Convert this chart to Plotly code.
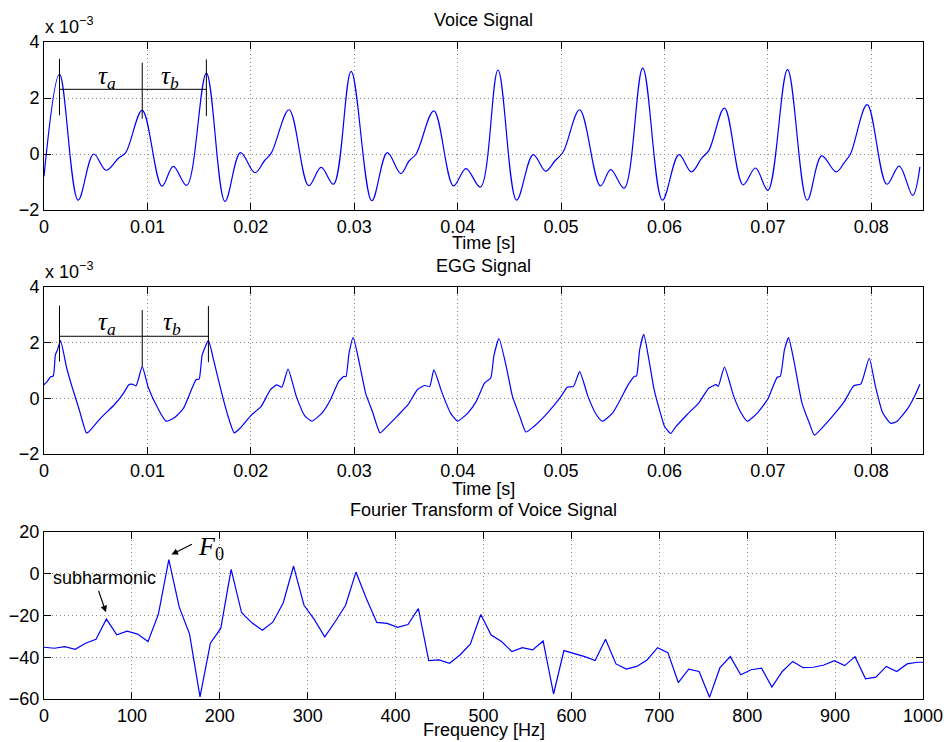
import plotly.graph_objects as go

# ---------------- data ----------------
# Voice signal (values in units of 1e-3)
voice_t = [0.0000, 0.0015, 0.0033, 0.0048, 0.0060, 0.0072, 0.0079, 0.0095, 0.0114, 0.0125,
           0.0138, 0.0157, 0.0175, 0.0190, 0.0204, 0.0213, 0.0220, 0.0237, 0.0256, 0.0268,
           0.0280, 0.0297, 0.0317, 0.0332, 0.0345, 0.0353, 0.0360, 0.0377, 0.0396, 0.0408,
           0.0422, 0.0439, 0.0457, 0.0473, 0.0485, 0.0494, 0.0502, 0.0518, 0.0538, 0.0548,
           0.0561, 0.0579, 0.0598, 0.0614, 0.0626, 0.0636, 0.0643, 0.0658, 0.0676, 0.0688,
           0.0700, 0.0719, 0.0738, 0.0752, 0.0766, 0.0774, 0.0780, 0.0796, 0.0815, 0.0827,
           0.0840, 0.0847]
voice_v = [-0.80, 2.85, -1.65, 0.00, -0.58, -0.15, 0.05, 1.56, -1.15, -0.44,
           -1.12, 2.89, -1.69, 0.05, -0.67, -0.25, 0.05, 1.58, -1.13, -0.48,
           -1.08, 2.95, -1.67, 0.05, -0.70, -0.25, 0.01, 1.54, -1.14, -0.52,
           -1.18, 3.00, -1.65, -0.02, -0.61, -0.25, 0.07, 1.58, -1.14, -0.56,
           -1.22, 3.07, -1.65, -0.02, -0.64, -0.15, 0.13, 1.64, -1.10, -0.50,
           -1.30, 3.01, -1.65, -0.07, -0.64, -0.30, 0.01, 1.76, -1.08, -0.43,
           -1.48, -0.46]

# EGG signal (values in units of 1e-3)
egg_t = [0.0000, 0.0003, 0.0006, 0.0009, 0.0011, 0.0013, 0.0016, 0.0022, 0.0027, 0.0034,
         0.0041, 0.0043, 0.0055, 0.0068, 0.0077, 0.0082, 0.0085, 0.0089, 0.0095, 0.0101,
         0.0110, 0.0118, 0.0126, 0.0135, 0.0147, 0.0150, 0.0153, 0.0159, 0.0164, 0.0171,
         0.0177, 0.0184, 0.0190, 0.0200, 0.0210, 0.0219, 0.0225, 0.0230, 0.0236, 0.0244,
         0.0252, 0.0259, 0.0269, 0.0277, 0.0285, 0.0290, 0.0292, 0.0295, 0.0299, 0.0305,
         0.0311, 0.0318, 0.0325, 0.0332, 0.0342, 0.0352, 0.0361, 0.0368, 0.0373, 0.0377,
         0.0385, 0.0393, 0.0400, 0.0410, 0.0418, 0.0426, 0.0432, 0.0435, 0.0440, 0.0447,
         0.0453, 0.0460, 0.0466, 0.0474, 0.0487, 0.0500, 0.0506, 0.0512, 0.0518, 0.0526,
         0.0534, 0.0540, 0.0550, 0.0558, 0.0564, 0.0571, 0.0573, 0.0576, 0.0580, 0.0585,
         0.0590, 0.0596, 0.0600, 0.0606, 0.0611, 0.0622, 0.0633, 0.0643, 0.0650, 0.0652,
         0.0658, 0.0667, 0.0674, 0.0680, 0.0690, 0.0700, 0.0709, 0.0712, 0.0716, 0.0720,
         0.0725, 0.0733, 0.0740, 0.0745, 0.0754, 0.0764, 0.0774, 0.0783, 0.0790, 0.0798,
         0.0804, 0.0811, 0.0819, 0.0825, 0.0835, 0.0841, 0.0847]
egg_v = [0.49, 0.60, 0.76, 0.81, 1.56, 1.74, 2.07, 1.08, 0.43, -0.40,
         -1.24, -1.21, -0.70, -0.23, 0.19, 0.49, 0.51, 0.45, 1.14, 0.37,
         -0.35, -0.82, -0.70, -0.35, 0.67, 0.69, 1.56, 2.07, 1.38, 0.31,
         -0.52, -1.24, -1.06, -0.62, -0.29, 0.31, 0.48, 0.40, 1.05, 0.07,
         -0.62, -0.82, -0.52, -0.05, 0.61, 0.79, 0.78, 1.62, 2.18, 1.26,
         0.19, -0.52, -1.24, -1.00, -0.62, -0.23, 0.31, 0.46, 0.43, 1.02,
         0.19, -0.52, -0.82, -0.52, -0.11, 0.55, 0.73, 1.52, 2.15, 1.14,
         0.07, -0.64, -1.21, -1.00, -0.52, 0.07, 0.40, 0.43, 0.96, 0.07,
         -0.58, -0.82, -0.52, 0.00, 0.43, 0.79, 0.80, 1.74, 2.30, 1.38,
         0.31, -0.52, -1.00, -1.26, -1.02, -0.58, -0.17, 0.37, 0.49, 0.43,
         1.12, 0.07, -0.52, -0.82, -0.52, -0.02, 0.76, 0.79, 1.74, 2.18,
         1.38, -0.17, -0.88, -1.32, -1.00, -0.58, -0.11, 0.45, 0.52, 1.44,
         0.43, -0.52, -0.90, -0.82, -0.38, 0.01, 0.51]

# Fourier transform of voice signal
fft_f = [0, 11.8, 23.7, 35.5, 47.3, 59.2, 71.0, 82.8, 94.6, 106.5,
         118.3, 130.1, 142.0, 153.8, 165.6, 177.5, 189.3, 201.1, 212.9, 224.8,
         236.6, 248.4, 260.3, 272.1, 283.9, 295.8, 307.6, 319.4, 331.2, 343.1,
         354.9, 366.7, 378.6, 390.4, 402.2, 414.1, 425.9, 437.7, 449.5, 461.4,
         473.2, 485.0, 496.9, 508.7, 520.5, 532.4, 544.2, 556.0, 567.8, 579.7,
         591.5, 603.3, 615.2, 627.0, 638.8, 650.7, 662.5, 674.3, 686.1, 698.0,
         709.8, 721.6, 733.5, 745.3, 757.1, 769.0, 780.8, 792.6, 804.4, 816.3,
         828.1, 839.9, 851.8, 863.6, 875.4, 887.3, 899.1, 910.9, 922.7, 934.6,
         946.4, 958.2, 970.1, 981.9, 993.7, 1005.6]
fft_db = [-35.2, -35.7, -34.9, -36.2, -33.3, -31.4, -21.7, -29.2, -27.5, -28.9,
          -32.5, -19.4, 6.8, -15.9, -28.9, -59.0, -33.3, -26.2, 2.1, -18.7,
          -23.5, -27.1, -23.2, -14.0, 3.7, -15.1, -22.0, -30.2, -23.0, -15.1,
          0.8, -11.9, -23.3, -23.8, -25.7, -24.3, -16.7, -41.6, -41.3, -42.9,
          -38.9, -33.7, -19.5, -29.4, -32.5, -37.3, -35.4, -36.5, -32.2, -57.6,
          -36.8, -38.1, -39.7, -41.6, -31.4, -43.2, -45.7, -44.4, -41.3, -35.4,
          -37.8, -52.1, -45.7, -46.8, -59.2, -45.0, -39.7, -48.4, -46.0, -45.2,
          -54.3, -46.8, -42.0, -45.0, -44.8, -43.7, -41.6, -44.0, -39.7, -50.3,
          -49.5, -44.4, -46.8, -43.2, -42.4, -42.4]

# tau markers (time, low, high) and horizontal bar level
voice_tau_t = [0.0015, 0.0095, 0.0157]
voice_tau_lo = [1.38, 1.26, 1.36]
voice_tau_hi = [3.40, 3.26, 3.38]
voice_tau_bar = 2.31
egg_tau_t = [0.0015, 0.0095, 0.0159]
egg_tau_lo = [1.32, 1.14, 1.30]
egg_tau_hi = [3.33, 3.17, 3.32]
egg_tau_bar = 2.23

time_ticks = [0, 0.01, 0.02, 0.03, 0.04, 0.05, 0.06, 0.07, 0.08]
time_labels = ["0", "0.01", "0.02", "0.03", "0.04", "0.05", "0.06", "0.07", "0.08"]

# ---------------- figure ----------------
W, H = 944, 742
ML, MR, MT, MB = 44, 21, 42, 43
PH = H - MT - MB


def py(px):
    """pixel y (from top) -> paper y"""
    return (H - MB - px) / PH


def pxx(px):
    return (px - ML) / (W - ML - MR)


BLUE = "rgb(0,0,255)"
SANS = "Liberation Sans, Arial, Helvetica, sans-serif"
SERIF = "Liberation Serif, Times New Roman, serif"

fig = go.Figure()

fig.add_trace(go.Scatter(x=voice_t, y=voice_v, mode="lines",
                         line=dict(color=BLUE, width=1.2, shape="spline", smoothing=1.0),
                         xaxis="x", yaxis="y", showlegend=False))
fig.add_trace(go.Scatter(x=egg_t, y=egg_v, mode="lines",
                         line=dict(color=BLUE, width=1.2, shape="spline", smoothing=0.5),
                         xaxis="x2", yaxis="y2", showlegend=False))
fig.add_trace(go.Scatter(x=fft_f, y=fft_db, mode="lines",
                         line=dict(color=BLUE, width=1.2),
                         xaxis="x3", yaxis="y3", showlegend=False))


def tau_traces(ts, los, his, bar, xa, ya):
    for t, lo, hi in zip(ts, los, his):
        fig.add_trace(go.Scatter(x=[t, t], y=[lo, hi], mode="lines",
                                 line=dict(color="black", width=1),
                                 xaxis=xa, yaxis=ya, showlegend=False, hoverinfo="skip"))
    fig.add_trace(go.Scatter(x=[ts[0], ts[-1]], y=[bar, bar], mode="lines",
                             line=dict(color="black", width=1),
                             xaxis=xa, yaxis=ya, showlegend=False, hoverinfo="skip"))


tau_traces(voice_tau_t, voice_tau_lo, voice_tau_hi, voice_tau_bar, "x", "y")
tau_traces(egg_tau_t, egg_tau_lo, egg_tau_hi, egg_tau_bar, "x2", "y2")

axis_common = dict(showline=True, linecolor="black", linewidth=1, mirror="ticks",
                   ticks="inside", ticklen=7, tickcolor="black", tickwidth=1,
                   showgrid=True, gridcolor="rgb(140,140,140)", griddash="1px,3px", gridwidth=1,
                   zeroline=False, automargin=False,
                   tickfont=dict(family=SANS, size=18, color="black"))

d1 = [py(210), py(42)]
d2 = [py(454), py(287)]
d3 = [0, py(532)]

fig.update_layout(
    width=W, height=H, margin=dict(l=ML, r=MR, t=MT, b=MB),
    paper_bgcolor="white", plot_bgcolor="white", showlegend=False,
    xaxis=dict(domain=[0, 1], anchor="y", range=[0, 0.085], tickvals=time_ticks,
               ticktext=time_labels, **axis_common),
    yaxis=dict(domain=d1, anchor="x", range=[-2, 4], dtick=2, **axis_common),
    xaxis2=dict(domain=[0, 1], anchor="y2", range=[0, 0.085], tickvals=time_ticks,
                ticktext=time_labels, **axis_common),
    yaxis2=dict(domain=d2, anchor="x2", range=[-2, 4], dtick=2, **axis_common),
    xaxis3=dict(domain=[0, 1], anchor="y3", range=[0, 1000], dtick=100, **axis_common),
    yaxis3=dict(domain=d3, anchor="x3", range=[-60, 20], dtick=20, **axis_common),
)

ann = []


def text(x, y, s, size=18, family=SANS, xanchor="center", yanchor="middle",
         xref="paper", yref="paper"):
    ann.append(dict(x=x, y=y, text=s, showarrow=False, xref=xref, yref=yref,
                    xanchor=xanchor, yanchor=yanchor,
                    font=dict(family=family, size=size, color="black")))


text(0.5, py(20.5), "Voice Signal")
text(0.5, py(243), "Time [s]")
text(0.5, py(266), "EGG Signal")
text(0.5, py(489), "Time [s]")
text(0.5, py(510), "Fourier Transform of Voice Signal")
text(0.5, py(730), "Frequency [Hz]")
text(pxx(43), py(39), "x 10<sup>−3</sup>", xanchor="left", yanchor="bottom")
text(pxx(43), py(284), "x 10<sup>−3</sup>", xanchor="left", yanchor="bottom")

text(0.0061, 2.75, "<i>τ<sub>a</sub></i>", size=25, family=SERIF, xref="x", yref="y")
text(0.0122, 2.75, "<i>τ<sub>b</sub></i>", size=25, family=SERIF, xref="x", yref="y")
text(0.0061, 2.68, "<i>τ<sub>a</sub></i>", size=25, family=SERIF, xref="x2", yref="y2")
text(0.0124, 2.68, "<i>τ<sub>b</sub></i>", size=25, family=SERIF, xref="x2", yref="y2")

text(69, -2.2, "subharmonic", size=18, xref="x3", yref="y3")
text(190, 12.5, "<i>F</i><sub>0</sub>", size=26, family=SERIF, xref="x3", yref="y3")

# arrows
ann.append(dict(x=70.5, y=-18.5, ax=61.5, ay=-7.5, xref="x3", yref="y3", axref="x3", ayref="y3",
                showarrow=True, arrowhead=2, arrowsize=1.1, arrowwidth=1.2, arrowcolor="black",
                text=""))
ann.append(dict(x=145, y=9.2, ax=170, ay=14.5, xref="x3", yref="y3", axref="x3", ayref="y3",
                showarrow=True, arrowhead=2, arrowsize=1.1, arrowwidth=1.2, arrowcolor="black",
                text=""))

fig.update_layout(annotations=ann)

fig.write_html("out.html")
